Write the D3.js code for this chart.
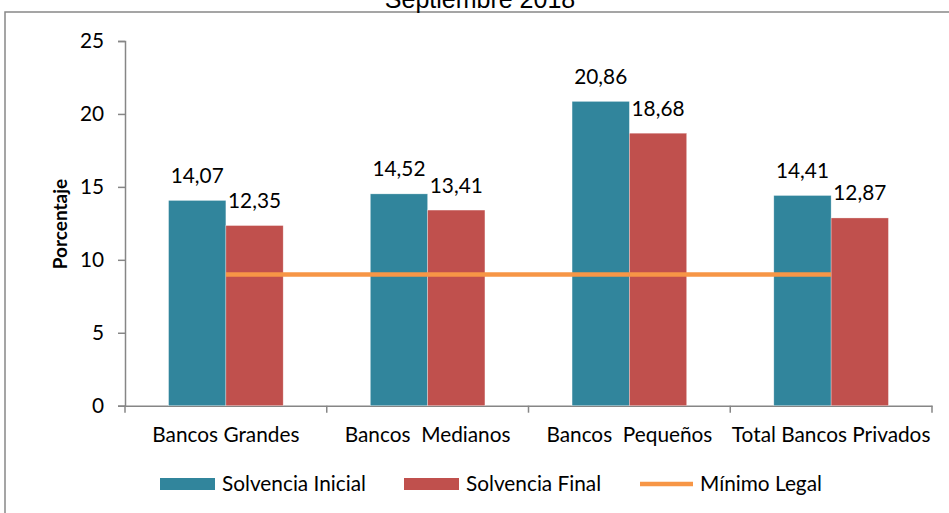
<!DOCTYPE html>
<meta charset="utf-8">
<script src="https://d3js.org/d3.v7.min.js"></script>
<style>
  body { margin: 0; background: #fff; }
  text { font-family: Lato, "Open Sans", sans-serif; fill: #000; white-space: pre; }
</style>
<div id="chart"></div>
<script>
// data
var categories = ["Bancos Grandes", "Bancos  Medianos", "Bancos  Pequeños", "Total Bancos Privados"];
var solvenciaInicial = [14.07, 14.52, 20.86, 14.41];
var solvenciaFinal = [12.35, 13.41, 18.68, 12.87];
var minimoLegal = [9, 9, 9, 9];
var seriesNames = ["Solvencia Inicial", "Solvencia Final", "Mínimo Legal"];
var yTicks = [0, 5, 10, 15, 20, 25];

var W = 949, H = 513;
var colors = ["#31859C", "#C0504D", "#F79646"];
var fs = "20.8px";

var svg = d3.select("#chart").append("svg")
    .attr("width", W).attr("height", H);

// outer frame (cut at right and bottom like the reference)
svg.append("rect")
    .attr("x", 5).attr("y", 12)
    .attr("width", W + 10).attr("height", H + 10)
    .attr("fill", "none").attr("stroke", "#888").attr("stroke-width", 1.5);

// title, mostly cut off above
svg.append("text")
    .attr("x", 480).attr("y", 8)
    .attr("text-anchor", "middle")
    .style("font-family", "'Liberation Sans', Arial, sans-serif")
    .style("font-size", "25px")
    .text("Septiembre 2018");

var plotLeft = 125, plotRight = 932, plotTop = 41, plotBottom = 405.7;

var x = d3.scaleBand().domain(categories).range([plotLeft, plotRight]).padding(0);
var barW = 57.3;
var xs = d3.scaleBand().domain([0, 1])
    .range([x.bandwidth() / 2 - barW, x.bandwidth() / 2 + barW]).padding(0);

var y = d3.scaleLinear().domain([0, 25]).range([plotBottom, plotTop]);

// y axis
var yAxis = svg.append("g")
    .attr("transform", "translate(" + plotLeft + ",0)")
    .call(d3.axisLeft(y).tickValues(yTicks).tickSize(7).tickPadding(14));
yAxis.select(".domain").attr("stroke", "#868686").attr("stroke-width", 1.5);
yAxis.selectAll(".tick line").attr("stroke", "#868686").attr("stroke-width", 1.5);
yAxis.selectAll(".tick text").style("font-size", fs)
    .style("font-family", "Lato, sans-serif").attr("fill", "#000");

// x axis
var xAxis = svg.append("g")
    .attr("transform", "translate(0," + plotBottom + ")")
    .call(d3.axisBottom(x).tickSize(0).tickPadding(22));
xAxis.select(".domain").attr("stroke", "#868686").attr("stroke-width", 1.5);
xAxis.selectAll(".tick text").style("font-size", fs)
    .style("font-family", "Lato, sans-serif").attr("fill", "#000");
// category separators
var seps = [plotLeft].concat(categories.map(function (c) { return x(c) + x.bandwidth(); }));
svg.selectAll(".sep").data(seps).enter().append("line")
    .attr("x1", function (d) { return d; }).attr("x2", function (d) { return d; })
    .attr("y1", plotBottom).attr("y2", plotBottom + 7)
    .attr("stroke", "#868686").attr("stroke-width", 1.5);

// bars
var series = [solvenciaInicial, solvenciaFinal];
series.forEach(function (vals, s) {
    var g = svg.append("g");
    g.selectAll("rect").data(vals).enter().append("rect")
        .attr("x", function (d, i) { return x(categories[i]) + xs(s); })
        .attr("y", function (d) { return y(d); })
        .attr("width", xs.bandwidth())
        .attr("height", function (d) { return plotBottom - y(d); })
        .attr("fill", colors[s])
        .attr("stroke", "#fff").attr("stroke-opacity", 0.5).attr("stroke-width", 0.6);
    g.selectAll("text").data(vals).enter().append("text")
        .attr("x", function (d, i) { return x(categories[i]) + xs(s) + xs.bandwidth() / 2; })
        .attr("y", function (d) { return y(d) - 17.5; })
        .attr("text-anchor", "middle")
        .style("font-size", fs)
        .text(function (d) { return d.toFixed(2).replace(".", ","); });
});

// minimum legal line
svg.append("path")
    .datum(minimoLegal)
    .attr("fill", "none")
    .attr("stroke", colors[2])
    .attr("stroke-width", 4.5)
    .attr("d", d3.line()
        .x(function (d, i) { return x(categories[i]) + x.bandwidth() / 2; })
        .y(function (d) { return y(d); }));

// y axis title
svg.append("text")
    .attr("transform", "translate(67,224) rotate(-90)")
    .attr("text-anchor", "middle")
    .style("font-size", "19px").style("font-weight", "bold")
    .text("Porcentaje");

// legend
var legendX = [160, 404, 640];
var lg = svg.append("g");
seriesNames.forEach(function (name, i) {
    if (i < 2) {
        lg.append("rect").attr("x", legendX[i]).attr("y", 478)
            .attr("width", 55).attr("height", 12).attr("fill", colors[i]);
    } else {
        lg.append("line").attr("x1", legendX[i]).attr("x2", legendX[i] + 53)
            .attr("y1", 484).attr("y2", 484)
            .attr("stroke", colors[i]).attr("stroke-width", 4.5);
    }
    lg.append("text").attr("x", legendX[i] + (i < 2 ? 62 : 60)).attr("y", 491)
        .style("font-size", fs).text(name);
});
</script>
